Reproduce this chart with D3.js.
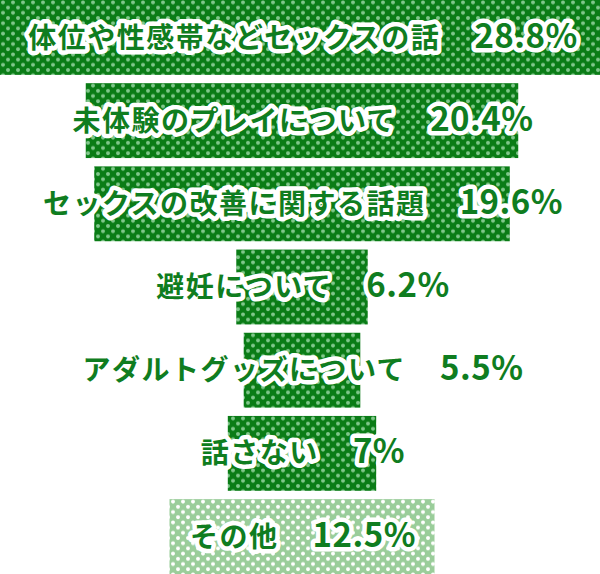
<!DOCTYPE html>
<html>
<head>
<meta charset="utf-8">
<script src="https://cdn.jsdelivr.net/npm/d3@7"></script>
<style>
  html, body { margin: 0; padding: 0; background: #fff; }
  svg { display: block; }
</style>
</head>
<body>
<svg id="chart"></svg>
<script>
// データ
const categories = [
    "体位や性感帯などセックスの話",
    "未体験のプレイについて",
    "セックスの改善に関する話題",
    "避妊について",
    "アダルトグッズについて",
    "話さない",
    "その他"
];
const values = [28.8, 20.4, 19.6, 6.2, 5.5, 7, 12.5];
const valueLabels = ["28.8%", "20.4%", "19.6%", "6.2%", "5.5%", "7%", "12.5%"];
const isOther = [false, false, false, false, false, false, true];

const width = 600;
const height = 574;
const centerX = 302;

const svg = d3.select("#chart")
    .attr("width", width)
    .attr("height", height);

// 水玉模様
const defs = svg.append("defs");
function dotPattern(id, bg, dot) {
    const p = defs.append("pattern")
        .attr("id", id)
        .attr("patternUnits", "userSpaceOnUse")
        .attr("width", 10)
        .attr("height", 10.4);
    p.append("rect").attr("width", 10).attr("height", 10.4).attr("fill", bg);
    p.append("circle").attr("cx", 3).attr("cy", 2.4).attr("r", 2).attr("fill", dot);
    p.append("circle").attr("cx", 8).attr("cy", 7.6).attr("r", 2).attr("fill", dot);
}
dotPattern("dotsDark", "#0a7c16", "#80c78b");
dotPattern("dotsLight", "#9acd9a", "#ffffff");

const data = categories.map((c, i) => ({ key: c, value: values[i], label: valueLabels[i], other: isOther[i] }));

// スケール
const y = d3.scaleBand()
    .domain(categories)
    .range([0, height])
    .paddingInner(0.1)
    .paddingOuter(0);

const w = d3.scaleLinear()
    .domain([0, 1])
    .range([0, 21.2]);

// 棒
svg.selectAll(".bar")
    .data(data)
    .enter()
    .append("rect")
    .attr("class", "bar")
    .attr("x", d => centerX - w(d.value) / 2)
    .attr("y", d => y(d.key))
    .attr("width", d => w(d.value))
    .attr("height", y.bandwidth())
    .attr("fill", d => d.other ? "url(#dotsLight)" : "url(#dotsDark)");

// ラベル（白フチ付き）
const labels = svg.selectAll(".label")
    .data(data)
    .enter()
    .append("text")
    .attr("class", "label")
    .attr("x", 303)
    .attr("y", d => y(d.key) + y.bandwidth() / 2)
    .attr("dy", "0.36em")
    .attr("text-anchor", "middle")
    .style("font-family", "'Noto Sans CJK JP', 'Noto Sans', sans-serif")
    .style("font-weight", "bold")
    .style("font-size", "28px")
    .style("fill", "#0f7d20")
    .style("stroke", "#fff")
    .style("stroke-width", "9px")
    .style("stroke-linejoin", "round")
    .style("paint-order", "stroke");

labels.append("tspan")
    .style("letter-spacing", "1.5px")
    .text(d => d.key);
labels.append("tspan")
    .attr("dx", 34)
    .style("font-size", "33px")
    .style("letter-spacing", "0.5px")
    .text(d => d.label);
</script>
</body>
</html>
